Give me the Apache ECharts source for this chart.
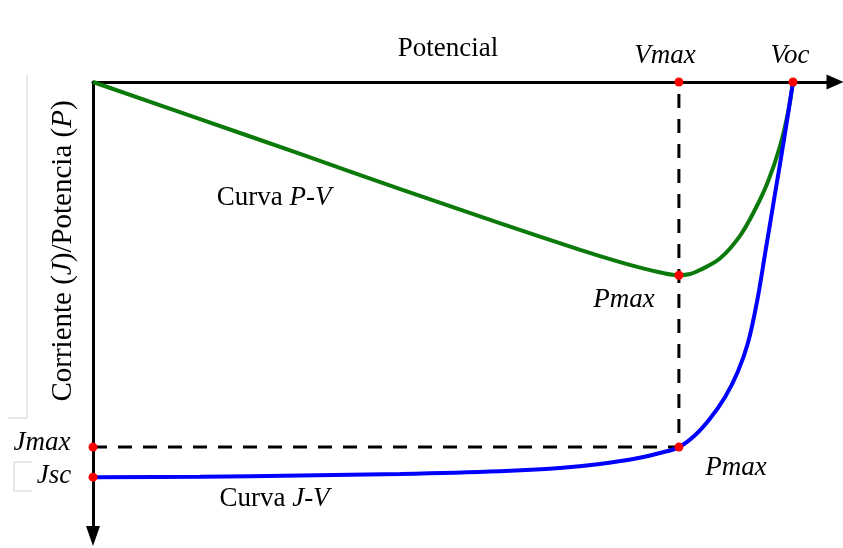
<!DOCTYPE html>
<html>
<head>
<meta charset="utf-8">
<script src="https://cdn.jsdelivr.net/npm/echarts@6/dist/echarts.min.js"></script>
<style>
  html, body { margin: 0; padding: 0; background: #fff; }
  #chart { width: 843px; height: 548px; }
</style>
</head>
<body>
<div id="chart"></div>
<script>
// Key points of the cell (normalised: Voc = 1, Jsc = 1)
const Voc = 1.0;
const Vmax = 0.837;
const Jsc = 1.0;
const Jmax = 0.924;
const Pmax = 0.489;

// J-V curve
const voltsJV = [0, 0.153, 0.296, 0.439, 0.581, 0.667, 0.724, 0.781, 0.810, 0.837, 0.860, 0.881, 0.903, 0.921, 0.936, 0.949, 0.961, 0.974, 0.987, 1.0];
const corriente = [1.0, 0.999, 0.996, 0.992, 0.985, 0.977, 0.967, 0.951, 0.939, 0.924, 0.894, 0.853, 0.797, 0.734, 0.658, 0.552, 0.425, 0.286, 0.147, 0];

// P-V curve
const voltsPV = [0, 0.153, 0.296, 0.439, 0.581, 0.696, 0.753, 0.796, 0.837, 0.853, 0.867, 0.896, 0.924, 0.946, 0.964, 0.981, 0.993, 1.0];
const potencia = [0, 0.094, 0.182, 0.271, 0.357, 0.425, 0.456, 0.476, 0.489, 0.486, 0.476, 0.446, 0.390, 0.322, 0.253, 0.165, 0.076, 0];

const SERIF = 'Liberation Serif, Times New Roman, serif';
const FS = 27;
const INK = '#000';

const pair = (xs, ys) => xs.map((x, i) => [x, ys[i]]);

const richText = {
  n: { fontFamily: SERIF, fontSize: FS, color: INK, textBorderWidth: 0 },
  i: { fontFamily: SERIF, fontSize: FS, fontStyle: 'italic', color: INK, textBorderWidth: 0 }
};

function pointLabel(text, dx, dy) {
  return {
    show: true, position: 'inside', offset: [dx, dy],
    color: INK, textBorderWidth: 0, opacity: 1,
    formatter: '{i|' + text + '}', rich: richText
  };
}

const chart = echarts.init(document.getElementById('chart'), null, { renderer: 'canvas' });

chart.setOption({
  animation: false,
  backgroundColor: '#fff',
  grid: { left: 93, top: 82, right: 8, bottom: 12 },
  xAxis: {
    type: 'value', min: 0, max: 1.06, position: 'top',
    name: 'Potencial', nameLocation: 'middle', nameGap: 20,
    nameTextStyle: { fontFamily: SERIF, fontSize: FS, color: INK, padding: [0, 32, 0, 0] },
    axisLine: { show: true, lineStyle: { color: '#000', width: 3 }, symbol: ['none', 'triangle'], symbolSize: [15, 17] },
    axisTick: { show: false }, axisLabel: { show: false }, splitLine: { show: false }
  },
  yAxis: {
    type: 'value', min: 0, max: 1.149, inverse: true,
    name: '{n|Corriente (}{i|J}{n|)/Potencia (}{i|P}{n|)}',
    nameLocation: 'middle', nameGap: 15, nameRotate: 90,
    nameTextStyle: { rich: { n: { fontFamily: SERIF, fontSize: 29, color: INK }, i: { fontFamily: SERIF, fontSize: 29, fontStyle: 'italic', color: INK } }, padding: [0, 0, 0, 116] },
    axisLine: { show: true, lineStyle: { color: '#000', width: 3 }, symbol: ['triangle', 'none'], symbolSize: [14, 20] },
    axisTick: { show: false }, axisLabel: { show: false }, splitLine: { show: false }
  },
  graphic: [
    { type: 'polyline', silent: true, shape: { points: [[27, 75], [27, 418], [8, 418]] }, style: { stroke: '#cfcfcf', lineWidth: 1, fill: null } },
    { type: 'polyline', silent: true, shape: { points: [[32, 462], [14, 462], [14, 491], [32, 491]] }, style: { stroke: '#cfcfcf', lineWidth: 1, fill: null } }
  ],
  series: [
    {
      name: 'Pmax guías', type: 'line', silent: true, symbol: 'none', clip: false,
      data: [[0, Jmax], [Vmax, Jmax], [Vmax, 0]],
      lineStyle: { color: '#000', width: 3, type: [14, 11] }
    },
    {
      name: 'Curva P-V', type: 'line', symbol: 'none', smooth: 0.35, clip: false,
      data: pair(voltsPV, potencia),
      lineStyle: { color: '#0b7a0b', width: 4 }
    },
    {
      name: 'Curva J-V', type: 'line', symbol: 'none', smooth: 0.35, clip: false,
      data: pair(voltsJV, corriente),
      lineStyle: { color: '#0000ff', width: 4 }
    },
    {
      name: 'Puntos', type: 'scatter', symbol: 'circle', symbolSize: 9, clip: false,
      itemStyle: { color: '#ff0000', opacity: 1 }, z: 5,
      data: [
        { value: [Vmax, 0], label: pointLabel('Vmax', -14, -26) },
        { value: [Voc, 0], label: pointLabel('Voc', -3, -26) },
        { value: [0, Jmax], label: pointLabel('Jmax', -51, -4) },
        { value: [0, Jsc], label: pointLabel('Jsc', -39, -1) },
        { value: [Vmax, Pmax], label: pointLabel('Pmax', -55, 25) },
        { value: [Vmax, Jmax], label: pointLabel('Pmax', 57, 21) }
      ]
    },
    {
      name: 'Rótulos', type: 'scatter', symbolSize: 0, silent: true, clip: false,
      itemStyle: { opacity: 1 },
      data: [
        { value: [0.2586, 0.2937], label: { show: true, position: 'inside', color: INK, textBorderWidth: 0, opacity: 1, formatter: '{n|Curva }{i|P-V}', rich: richText } },
        { value: [0.2593, 1.0557], label: { show: true, position: 'inside', color: INK, textBorderWidth: 0, opacity: 1, formatter: '{n|Curva }{i|J-V}', rich: richText } }
      ]
    }
  ]
});
</script>
</body>
</html>
